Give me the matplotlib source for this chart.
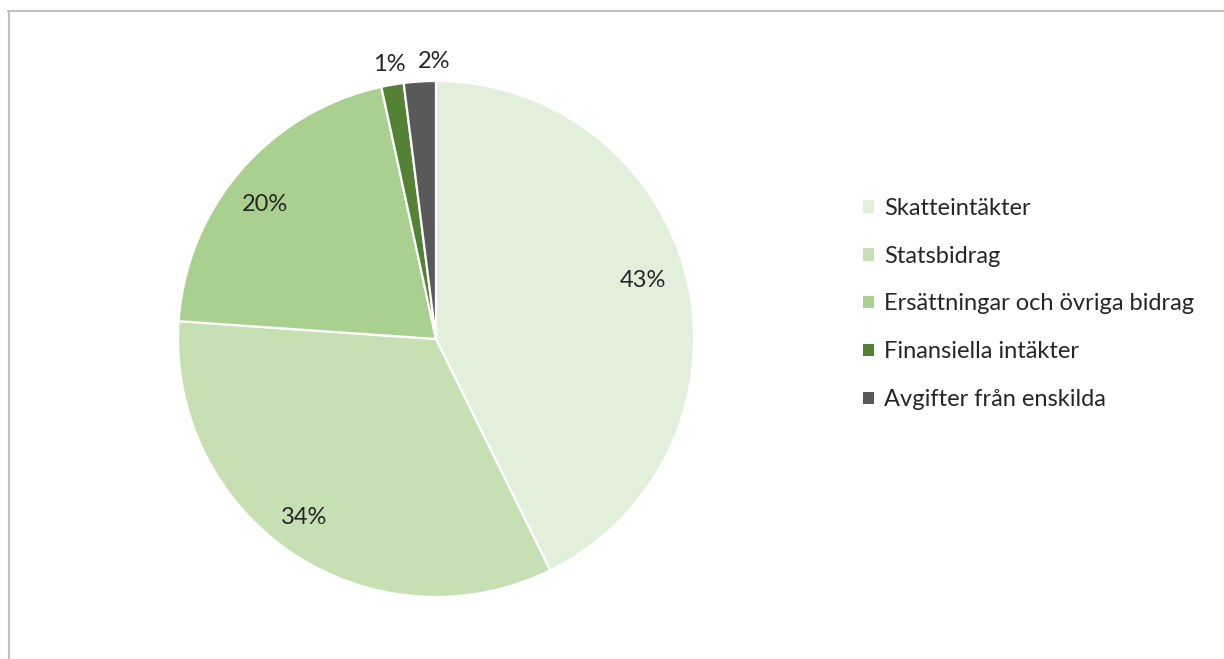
import numpy as np
import matplotlib
matplotlib.use("Agg")
import matplotlib.pyplot as plt
from matplotlib.patches import Patch
from matplotlib.lines import Line2D

# Data
categories = [
    "Skatteintäkter",
    "Statsbidrag",
    "Ersättningar och övriga bidrag",
    "Finansiella intäkter",
    "Avgifter från enskilda",
]
shares = [42.7, 33.4, 20.5, 1.4, 2.0]
pct_labels = ["43%", "34%", "20%", "1%", "2%"]
colors = ["#E2EFDA", "#C6E0B4", "#A9D08E", "#548235", "#595959"]

plt.rcParams["font.family"] = ["Lato", "DejaVu Sans"]

W, H = 1224, 659
fig = plt.figure(figsize=(W / 100, H / 100), dpi=100)

# pie centre (436, 339) px, radius 258 px
cx, cy, r = 436, 339, 258
ax = fig.add_axes([(cx - r) / W, (H - cy - r) / H, 2 * r / W, 2 * r / H])

wedges, _ = ax.pie(
    shares,
    colors=colors,
    startangle=90,
    counterclock=False,
    wedgeprops=dict(edgecolor="white", linewidth=1.6),
)
ax.set_xlim(-1, 1)
ax.set_ylim(-1, 1)
ax.set_aspect("equal")
ax.axis("off")

# label placement nudges (degrees, radius fraction), Excel "best fit"-ish
nudge = [(2.7, 0.835), (-2.6, 0.86), (2.6, 0.845), (0.0, 1.08), (None, 1.075)]

for w, lab, (dang, dist) in zip(wedges, pct_labels, nudge):
    lo, hi = sorted((w.theta1, w.theta2))
    # None -> put the label at the slice's 12 o'clock edge
    ang = lo + 0.3 if dang is None else (lo + hi) / 2 + dang
    a = np.deg2rad(ang)
    ax.text(dist * np.cos(a), dist * np.sin(a), lab,
            ha="center", va="center", fontsize=17, color="#262626")

handles = [Patch(facecolor=c, edgecolor="none") for c in colors]
fig.legend(
    handles, categories,
    loc="center left", bbox_to_anchor=(863 / W, 1 - 304 / H),
    frameon=False, fontsize=17, labelcolor="#262626",
    handlelength=0.45, handleheight=0.45, handletextpad=0.45,
    labelspacing=1.14, borderpad=0, borderaxespad=0,
)

# thin chart-area border along top and left
border = "#BFBFBF"
fig.add_artist(Line2D([8 / W, 1], [1 - 11 / H, 1 - 11 / H], color=border, lw=1.5))
fig.add_artist(Line2D([8.5 / W, 8.5 / W], [0, 1 - 11 / H], color=border, lw=1.5))

fig.savefig("out.png", dpi=100, facecolor="white")
